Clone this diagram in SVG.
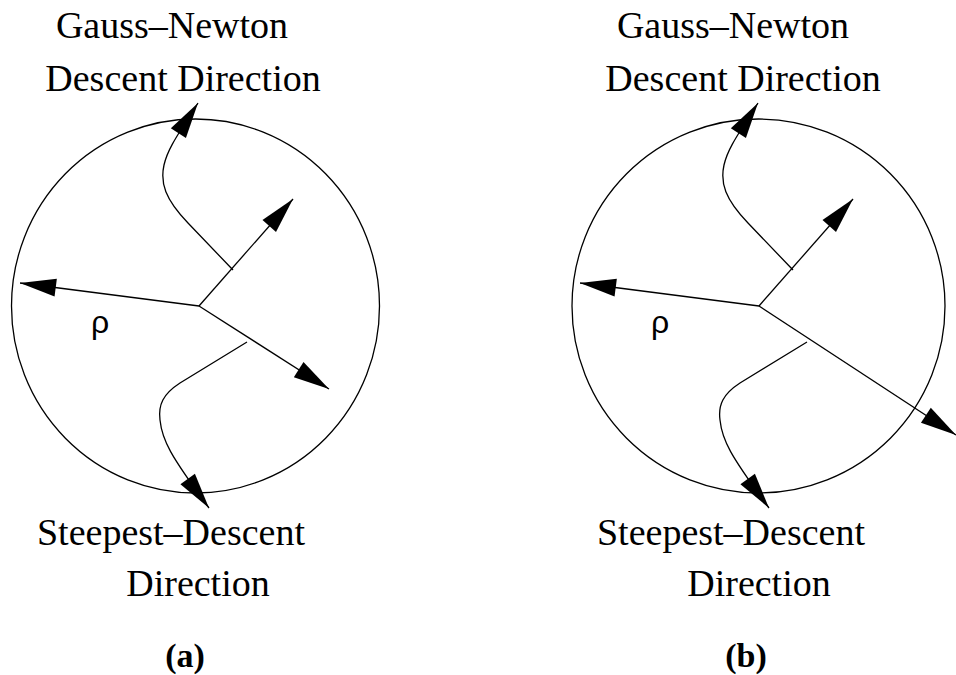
<svg xmlns="http://www.w3.org/2000/svg" width="956" height="675" viewBox="0 0 956 675">
<style>
.c{fill:none;stroke:#000;stroke-width:1.3}
.l{fill:none;stroke:#000;stroke-width:1.3;marker-end:url(#ah)}
.t{font-family:"Liberation Serif","Times New Roman",serif;font-size:38px;text-anchor:middle;fill:#000}
.b{font-family:"Liberation Serif","Times New Roman",serif;font-size:34px;font-weight:bold;text-anchor:middle;fill:#000}
.r{font-family:"Liberation Sans",Arial,sans-serif;font-size:32px;fill:#000}
</style>
<defs>
<marker id="ah" markerUnits="userSpaceOnUse" markerWidth="40" markerHeight="22" viewBox="-37 -11 40 22" refX="0" refY="0" orient="auto">
<path d="M0,0 L-36,-9 L-36,9 Z" fill="#000"/>
</marker>
</defs>
<g id="panel-a">
<g id="a-circle"><ellipse class="c" cx="195.5" cy="306" rx="184" ry="187"/></g>
<g id="a-labels">
<text class="t" x="172" y="38">Gauss–Newton</text>
<text class="t" x="183" y="91">Descent Direction</text>
<text class="t" x="171" y="545">Steepest–Descent</text>
<text class="t" x="198" y="596">Direction</text>
<text class="b" x="185" y="667">(a)</text>
<text class="r" x="91" y="333">ρ</text>
</g>
<g id="a-connectors">
<path class="l" d="M199,306 L20,283"/>
<path class="l" d="M199,306 L293,199"/>
<path class="l" d="M199,306 L329,389"/>
<path class="l" d="M233,270 L188,223 C165,199 160,183 164,165 C167,152 172,143 198,103"/>
<path class="l" d="M247,342 L180,383 C163,394 158,405 160,420 C162,440 170,455 209,508"/>
</g>
</g>
<g id="panel-b">
<g id="b-circle"><ellipse class="c" cx="758.5" cy="306" rx="186.5" ry="187"/></g>
<g id="b-labels">
<text class="t" x="733" y="38">Gauss–Newton</text>
<text class="t" x="743" y="91">Descent Direction</text>
<text class="t" x="731" y="545">Steepest–Descent</text>
<text class="t" x="759" y="596">Direction</text>
<text class="b" x="746" y="667">(b)</text>
<text class="r" x="651" y="333">ρ</text>
</g>
<g id="b-connectors">
<path class="l" d="M759,306 L580,283"/>
<path class="l" d="M759,306 L853,199"/>
<path class="l" d="M759,306 L956,435"/>
<path class="l" d="M793,270 L748,223 C725,199 720,183 724,165 C727,152 732,143 758,103"/>
<path class="l" d="M807,342 L740,383 C723,394 718,405 720,420 C722,440 730,455 769,508"/>
</g>
</g>
</svg>
